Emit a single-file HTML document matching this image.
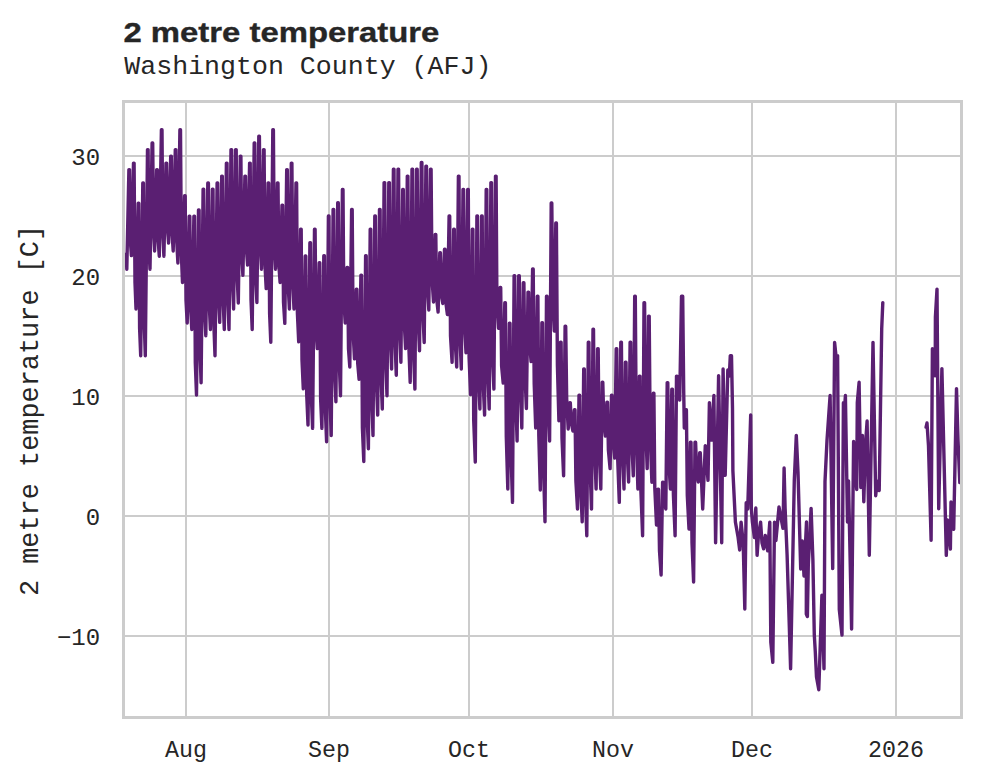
<!DOCTYPE html>
<html><head><meta charset="utf-8"><title>2 metre temperature</title>
<style>html,body{margin:0;padding:0;background:#fff}svg{display:block}</style></head>
<body>
<svg width="981" height="782" viewBox="0 0 981 782">
<rect width="981" height="782" fill="#fff"/>
<path d="M123.5,156.0 H961.5 M123.5,276.0 H961.5 M123.5,396.0 H961.5 M123.5,516.0 H961.5 M123.5,636.0 H961.5 M186.0,101.5 V717.5 M329.0,101.5 V717.5 M469.0,101.5 V717.5 M613.0,101.5 V717.5 M752.0,101.5 V717.5 M896.0,101.5 V717.5" stroke="#cccccc" stroke-width="2" fill="none"/>
<clipPath id="c"><rect x="123.5" y="101.5" width="838.0" height="616.0"/></clipPath>
<g clip-path="url(#c)" fill="none" stroke="#5a1f72" stroke-width="3.4" stroke-linejoin="round" stroke-linecap="round"><path d="M126.3,254.0 L126.8,269.2 L128.9,169.6 L129.5,169.6 L130.3,240.1 L131.4,255.6 L133.5,163.1 L134.1,163.1 L135.0,282.7 L136.0,309.0 L138.2,203.3 L138.8,203.3 L139.6,328.2 L140.7,355.7 L142.8,182.9 L143.4,182.9 L144.3,324.5 L145.3,355.7 L147.5,149.6 L148.1,149.6 L148.9,247.6 L150.0,269.2 L152.1,143.0 L152.7,143.0 L153.6,231.5 L154.6,251.0 L156.7,169.6 L157.3,169.6 L158.2,240.6 L159.3,256.2 L161.4,129.7 L162.0,129.7 L162.8,233.4 L163.9,256.2 L166.0,163.1 L166.6,163.1 L167.5,228.6 L168.6,243.0 L170.7,156.3 L171.3,156.3 L172.1,233.9 L173.2,251.0 L175.3,149.6 L175.9,149.6 L176.8,242.5 L177.9,263.0 L179.9,129.7 L180.5,129.7 L181.4,254.9 L182.5,282.5 L184.6,195.8 L185.2,195.8 L186.0,300.1 L187.2,323.0 L189.2,216.3 L189.8,216.3 L190.7,309.1 L191.8,329.5 L193.9,216.3 L194.5,216.3 L195.3,362.8 L196.5,395.0 L198.5,209.9 L199.1,209.9 L200.0,351.5 L201.1,382.7 L203.1,189.3 L203.7,189.3 L204.6,309.3 L205.8,335.7 L207.8,182.9 L208.4,182.9 L209.2,303.1 L210.4,329.5 L212.4,189.3 L213.0,189.3 L213.9,325.7 L215.0,355.7 L217.1,182.9 L217.7,182.9 L218.5,297.2 L219.7,322.4 L221.7,176.1 L222.3,176.1 L223.2,301.8 L224.3,329.5 L226.4,163.1 L227.0,163.1 L227.8,299.5 L229.0,329.5 L231.0,149.6 L231.6,149.6 L232.4,280.3 L233.6,309.0 L235.6,149.6 L236.2,149.6 L237.1,275.3 L238.3,303.0 L240.3,156.3 L240.9,156.3 L241.7,253.8 L242.9,275.3 L244.9,176.1 L245.5,176.1 L246.4,248.9 L247.6,265.0 L249.6,163.1 L250.2,163.1 L251.0,299.5 L252.2,329.5 L254.2,143.0 L254.8,143.0 L255.6,273.7 L256.9,302.5 L258.8,136.3 L259.4,136.3 L260.3,245.2 L261.5,269.2 L263.5,149.6 L264.1,149.6 L264.9,263.5 L266.2,288.6 L268.1,182.9 L268.7,182.9 L269.6,313.5 L270.8,342.2 L272.8,129.7 L273.4,129.7 L274.2,244.0 L275.5,269.2 L277.4,182.9 L278.0,182.9 L278.8,264.5 L280.1,282.5 L282.0,205.3 L282.6,205.3 L283.5,302.1 L284.8,323.4 L286.7,169.6 L287.3,169.6 L288.1,283.9 L289.4,309.0 L291.3,163.1 L291.9,163.1 L292.8,282.7 L294.0,309.0 L296.0,182.9 L296.6,182.9 L297.4,313.1 L298.7,341.8 L300.6,229.3 L301.2,229.3 L302.0,360.0 L303.3,388.8 L305.2,255.9 L305.8,255.9 L306.7,394.5 L308.0,425.0 L309.9,242.8 L310.5,242.8 L311.3,394.9 L312.6,428.4 L314.5,229.3 L315.1,229.3 L316.0,327.1 L317.3,348.6 L319.2,262.7 L319.8,262.7 L320.6,398.5 L321.9,428.4 L323.8,255.8 L324.4,255.8 L325.3,408.2 L326.6,441.7 L328.4,216.0 L329.0,216.0 L329.9,395.9 L331.2,435.5 L333.1,209.4 L333.7,209.4 L334.5,367.1 L335.9,401.8 L337.7,202.7 L338.3,202.7 L339.2,360.9 L340.5,395.7 L342.4,189.4 L343.0,189.4 L343.8,298.9 L345.2,323.0 L347.0,267.5 L347.6,267.5 L348.5,349.0 L349.8,367.0 L351.6,209.4 L352.2,209.4 L353.1,331.9 L354.5,358.9 L356.3,289.2 L356.9,289.2 L357.7,363.0 L359.1,379.3 L360.9,275.3 L361.5,275.3 L362.4,427.9 L363.8,461.5 L365.6,255.8 L366.2,255.8 L367.0,414.0 L368.4,448.8 L370.2,229.3 L370.8,229.3 L371.7,398.3 L373.0,435.5 L374.8,216.0 L375.4,216.0 L376.3,379.2 L377.7,415.1 L379.5,209.4 L380.1,209.4 L380.9,373.0 L382.3,409.0 L384.1,182.6 L384.7,182.6 L385.6,357.3 L387.0,395.7 L388.8,182.6 L389.4,182.6 L390.2,335.4 L391.6,369.0 L393.4,169.3 L394.0,169.3 L394.9,338.1 L396.3,375.2 L398.0,169.3 L398.6,169.3 L399.5,327.5 L400.9,362.3 L402.7,189.4 L403.3,189.4 L404.1,319.9 L405.6,348.6 L407.3,176.1 L407.9,176.1 L408.8,345.2 L410.2,382.4 L412.0,169.3 L412.6,169.3 L413.4,349.5 L414.9,389.1 L416.6,169.3 L417.2,169.3 L418.1,318.0 L419.5,350.7 L421.3,162.4 L421.9,162.4 L422.7,310.0 L424.2,342.5 L425.9,166.3 L426.5,166.3 L427.3,284.1 L428.8,310.0 L430.5,169.3 L431.1,169.3 L432.0,278.1 L433.5,302.0 L435.2,234.4 L435.8,234.4 L436.6,298.0 L438.1,312.0 L439.8,252.8 L440.4,252.8 L441.3,294.3 L442.8,303.5 L444.5,249.3 L445.1,249.3 L445.9,302.8 L447.4,314.6 L449.1,216.0 L449.7,216.0 L450.5,335.9 L452.1,362.3 L453.7,229.3 L454.3,229.3 L455.2,342.2 L456.7,367.0 L458.4,176.1 L459.0,176.1 L459.8,334.2 L461.3,369.0 L463.0,189.4 L463.6,189.4 L464.5,323.3 L466.0,352.7 L467.7,189.4 L468.3,189.4 L469.1,357.6 L470.6,394.6 L472.3,229.3 L472.9,229.3 L473.7,420.1 L475.3,462.1 L476.9,216.0 L477.5,216.0 L478.4,374.2 L479.9,409.0 L481.6,216.0 L482.2,216.0 L483.0,379.2 L484.6,415.1 L486.2,189.4 L486.8,189.4 L487.7,369.4 L489.2,409.0 L490.9,182.6 L491.5,182.6 L492.3,351.9 L493.9,389.1 L495.5,176.1 L496.1,176.1 L496.9,300.8 L498.5,328.2 L500.1,287.5 L500.7,287.5 L501.6,365.8 L503.2,383.0 L504.8,302.8 L505.4,302.8 L506.3,436.8 L507.8,489.0 L509.4,323.3 L510.0,323.3 L511.0,452.2 L512.5,502.4 L514.1,275.8 L514.7,275.8 L515.6,394.7 L517.1,441.0 L518.7,275.8 L519.3,275.8 L520.3,385.3 L521.8,428.0 L523.3,282.7 L523.9,282.7 L524.9,373.2 L526.4,408.5 L528.0,292.1 L528.6,292.1 L529.5,342.0 L531.1,361.5 L532.6,269.0 L533.2,269.0 L534.2,383.4 L535.7,428.0 L537.3,296.3 L537.9,296.3 L538.8,435.7 L540.3,490.0 L541.9,322.8 L542.5,322.8 L543.5,466.0 L545.0,521.8 L546.5,296.3 L547.1,296.3 L548.1,400.4 L549.6,441.0 L551.2,203.0 L551.8,203.0 L552.7,295.1 L554.3,331.0 L555.8,223.0 L556.4,223.0 L557.4,365.3 L558.9,420.8 L560.5,342.3 L561.1,342.3 L562.0,438.3 L563.6,475.8 L565.1,326.3 L565.7,326.3 L566.7,400.2 L568.2,429.0 L569.7,402.7 L570.3,402.7 L571.3,423.0 L572.9,431.0 L574.4,409.8 L575.0,409.8 L575.9,481.1 L577.5,509.0 L579.0,395.3 L579.6,395.3 L580.6,486.3 L582.2,521.8 L583.7,368.9 L584.3,368.9 L585.2,488.9 L586.8,535.7 L588.3,342.3 L588.9,342.3 L589.9,462.2 L591.5,509.0 L593.0,329.3 L593.5,329.3 L594.5,444.2 L596.1,489.0 L597.6,348.8 L598.2,348.8 L599.1,449.7 L600.8,489.0 L602.2,382.3 L602.8,382.3 L603.8,420.9 L605.4,436.0 L606.9,402.3 L607.5,402.3 L608.4,450.0 L610.1,468.6 L611.5,395.3 L612.1,395.3 L613.1,440.4 L614.7,458.0 L616.2,348.8 L616.8,348.8 L617.7,459.3 L619.3,502.4 L620.8,342.3 L621.4,342.3 L622.3,447.8 L624.0,489.0 L625.4,362.3 L626.0,362.3 L627.0,448.4 L628.6,482.0 L630.1,342.3 L630.7,342.3 L631.6,438.3 L633.3,475.8 L634.7,296.3 L635.3,296.3 L636.3,435.0 L637.9,489.0 L639.4,376.1 L640.0,376.1 L640.9,490.9 L642.6,535.7 L644.0,302.8 L644.6,302.8 L645.5,422.1 L647.2,468.6 L648.6,316.1 L649.2,316.1 L650.2,435.7 L651.9,482.3 L653.3,393.3 L653.9,393.3 L654.8,488.0 L656.5,525.0 L657.9,489.3 L658.5,489.3 L659.5,550.9 L661.1,575.0 L662.6,482.3 L663.2,482.3 L664.1,501.4 L665.8,509.0 L667.2,382.6 L667.8,382.6 L668.7,459.1 L670.4,489.0 L671.8,389.3 L672.4,389.3 L673.4,494.6 L675.1,535.7 L676.5,376.1 L677.1,376.1 L678.0,393.2 L679.7,400.0 L681.5,296.3 L682.7,296.3 L683.7,391.0 L684.3,428.0 L685.8,409.8 L686.4,409.8 L687.3,495.5 L689.0,529.0 L690.4,442.3 L691.0,442.3 L692.0,542.8 L693.6,582.0 L695.0,442.3 L695.6,442.3 L696.6,470.8 L698.3,482.0 L699.7,452.8 L700.3,452.8 L702.7,509.0 L705.3,445.6 L708.0,480.3 L709.4,402.7 L711.5,440.0 L713.9,395.5 L715.6,542.7 L718.6,375.7 L721.7,542.7 L723.1,369.0 L725.2,475.2 L727.8,370.0 L729.3,376.0 L730.3,355.7 L731.5,355.7 L732.5,408.8 L732.9,471.0 L735.4,522.0 L738.0,536.6 L739.7,550.0 L741.1,522.2 L743.2,542.7 L744.8,609.0 L746.2,502.8 L747.7,509.0 L750.7,415.0 L751.3,508.0 L752.4,522.0 L754.4,537.6 L755.8,508.0 L757.1,555.3 L758.5,534.5 L760.6,522.2 L762.0,542.7 L763.6,548.8 L765.3,535.5 L767.7,550.9 L769.8,522.2 L770.8,642.0 L772.8,662.3 L774.5,522.2 L775.9,540.6 L779.0,507.0 L781.0,518.0 L783.0,528.4 L784.1,468.0 L785.1,508.0 L787.1,555.0 L788.5,600.0 L790.6,668.8 L794.3,480.0 L796.3,435.4 L798.0,472.0 L799.4,522.0 L800.7,569.0 L802.3,541.0 L804.0,576.0 L806.5,522.0 L806.3,614.0 L807.4,616.5 L808.3,565.0 L811.1,508.4 L812.9,560.0 L814.3,635.0 L815.3,652.0 L816.5,677.0 L818.8,689.8 L821.9,595.2 L824.0,668.8 L825.0,481.3 L827.0,440.4 L830.1,395.5 L832.7,568.6 L834.6,342.4 L836.2,358.0 L837.6,355.7 L839.3,609.5 L842.0,635.0 L843.4,402.7 L844.4,411.0 L845.4,395.5 L847.5,522.0 L848.5,481.0 L851.6,629.0 L853.6,441.5 L856.7,489.5 L857.3,402.7 L859.1,382.3 L860.8,487.5 L862.4,435.4 L863.8,501.8 L865.5,444.5 L867.1,421.0 L869.3,555.3 L873.0,342.4 L875.7,495.7 L877.1,481.3 L879.2,490.5 L881.7,329.0 L882.8,302.6"/><path d="M926.1,427.2 L927.0,423.0 L928.5,446.0 L931.1,540.2 L932.4,348.7 L935.2,375.8 L935.4,317.0 L937.0,289.1 L938.7,508.7 L941.9,368.6 L946.3,555.4 L947.5,520.0 L950.4,549.0 L951.0,502.0 L953.7,529.3 L956.5,388.6 L958.0,440.0 L959.8,482.6"/></g>
<rect x="123.5" y="101.5" width="838.0" height="616.0" fill="none" stroke="#cccccc" stroke-width="3"/>
<g font-family="'Liberation Mono', monospace" fill="#262626">
<text x="100.1" y="164.9" font-size="24" text-anchor="end">30</text>
<text x="100.1" y="284.9" font-size="24" text-anchor="end">20</text>
<text x="100.1" y="404.9" font-size="24" text-anchor="end">10</text>
<text x="100.1" y="524.9" font-size="24" text-anchor="end">0</text>
<text x="100.1" y="644.9" font-size="24" text-anchor="end">−10</text>
<text x="186.0" y="757" font-size="23.3" text-anchor="middle">Aug</text>
<text x="329.0" y="757" font-size="23.3" text-anchor="middle">Sep</text>
<text x="469.0" y="757" font-size="23.3" text-anchor="middle">Oct</text>
<text x="613.0" y="757" font-size="23.3" text-anchor="middle">Nov</text>
<text x="752.0" y="757" font-size="23.3" text-anchor="middle">Dec</text>
<text x="896.0" y="757" font-size="23.3" text-anchor="middle">2026</text>
<text x="124.3" y="73.8" font-size="26.6">Washington County (AFJ)</text>
<text transform="translate(38.3,410.5) rotate(-90)" font-size="26.9" text-anchor="middle">2 metre temperature [C]</text>
</g>
<text x="123.4" y="42" font-family="'Liberation Sans', sans-serif" font-weight="bold" font-size="28" textLength="316" lengthAdjust="spacingAndGlyphs" fill="#262626" stroke="#262626" stroke-width="0.35">2 metre temperature</text>
</svg>
</body></html>
